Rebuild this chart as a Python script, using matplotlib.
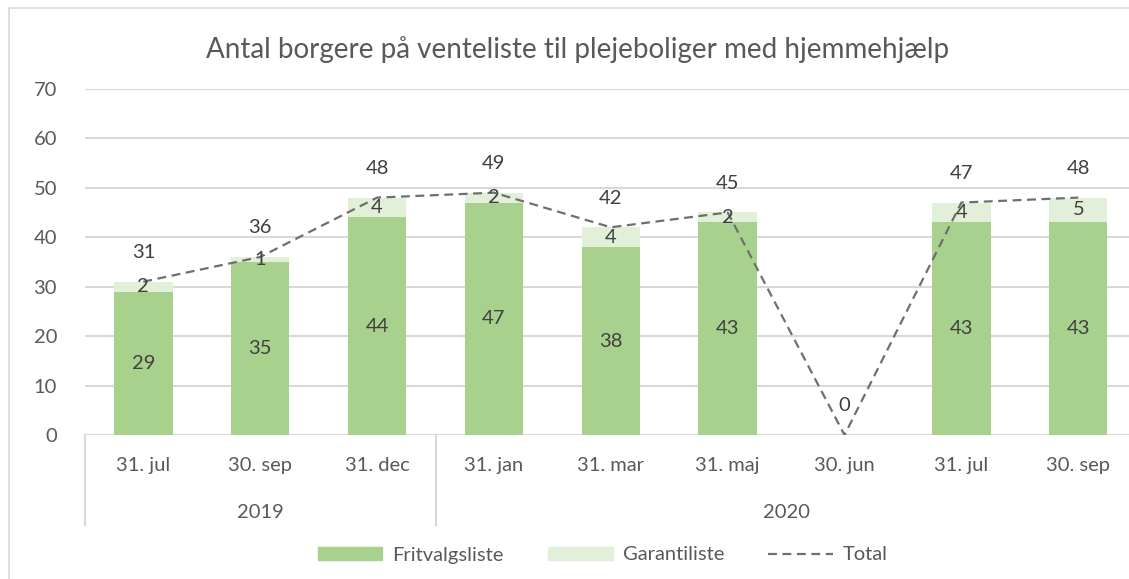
import matplotlib.pyplot as plt
import numpy as np
from matplotlib.patches import Rectangle
from matplotlib.lines import Line2D
from matplotlib.patches import Patch

# data
categories = ["31. jul", "30. sep", "31. dec", "31. jan", "31. mar", "31. maj", "30. jun", "31. jul", "30. sep"]
years = ["2019", "2020"]
year_spans = [(0, 2), (3, 8)]
fritvalg = [29, 35, 44, 47, 38, 43, np.nan, 43, 43]
garanti = [2, 1, 4, 2, 4, 2, np.nan, 4, 5]
total = [31, 36, 48, 49, 42, 45, 0, 47, 48]

plt.rcParams['font.family'] = ['Lato', 'DejaVu Sans']
txt = '#595959'
grid_c = '#d9d9d9'

W, H = 1129, 579
fig = plt.figure(figsize=(W / 100, H / 100), dpi=100)

# outer chart border
fig.patches.append(Rectangle((9 / W, -0.1), 1.2, 1 - 8 / H + 0.1, transform=fig.transFigure,
                             fill=False, edgecolor=grid_c, linewidth=1.2))

ax = fig.add_axes([84.9 / W, (H - 435) / H, 1051.8 / W, 346.2 / H])
x = np.arange(len(categories))

ax.bar(x, fritvalg, width=0.5, color='#A9D18E', zorder=2)
ax.bar(x, garanti, width=0.5, bottom=fritvalg, color='#E2F0D9', zorder=2)
ax.plot(x, total, color='#6f6f6f', linestyle=(0, (4, 2.5)), linewidth=1.6, zorder=3)

for i in range(len(categories)):
    if not np.isnan(fritvalg[i]):
        ax.text(x[i], fritvalg[i] / 2, f"{fritvalg[i]:.0f}", ha='center', va='center', fontsize=14.5, color='#404040', zorder=4)
        ax.text(x[i], fritvalg[i] + garanti[i] / 2, f"{garanti[i]:.0f}", ha='center', va='center', fontsize=14.5, color='#404040', zorder=4)
    ax.annotate(f"{total[i]}", (x[i], total[i]), xytext=(0, 21), textcoords='offset points',
                ha='center', va='center', fontsize=14.5, color='#404040', zorder=4)

ax.set_xlim(-0.5, len(categories) - 0.5)
ax.set_ylim(0, 70)
ax.set_yticks(range(0, 71, 10))
ax.yaxis.grid(True, color=grid_c, linewidth=1.5, zorder=0)
ax.set_axisbelow(True)
for s in ax.spines.values():
    s.set_visible(False)
ax.tick_params(axis='both', length=0, labelsize=14.5, labelcolor=txt)
ax.tick_params(axis='y', pad=20)
ax.set_xticks(x)
ax.set_xticklabels(categories)
ax.tick_params(axis='x', pad=16)

# multi-level axis: year labels and separators
for yr, (a, b) in zip(years, year_spans):
    ax.text((a + b) / 2, -0.225, yr, transform=ax.get_xaxis_transform(), ha='center', va='center',
            fontsize=14.5, color=txt)
for sep in [-0.5, 2.5, 8.5]:
    ax.plot([sep, sep], [0, -0.26], transform=ax.get_xaxis_transform(), color=grid_c,
            linewidth=1.5, clip_on=False)

fig.text(578 / W, 1 - 50 / H, "Antal borgere på venteliste til plejeboliger med hjemmehjælp",
         ha='center', va='center', fontsize=20, color=txt)

handles = [Patch(color='#A9D18E', label='Fritvalgsliste'),
           Patch(color='#E2F0D9', label='Garantiliste'),
           Line2D([], [], color='#6f6f6f', linestyle=(0, (4, 2.5)), linewidth=1.6, label='Total')]
leg = fig.legend(handles=handles, loc='center', bbox_to_anchor=(603 / W, 1 - 555 / H), ncol=3,
                 frameon=False, fontsize=14.5, handlelength=3.2, handleheight=0.6,
                 handletextpad=0.5, columnspacing=2.2)
for t in leg.get_texts():
    t.set_color(txt)

fig.savefig('out.png', dpi=100)
